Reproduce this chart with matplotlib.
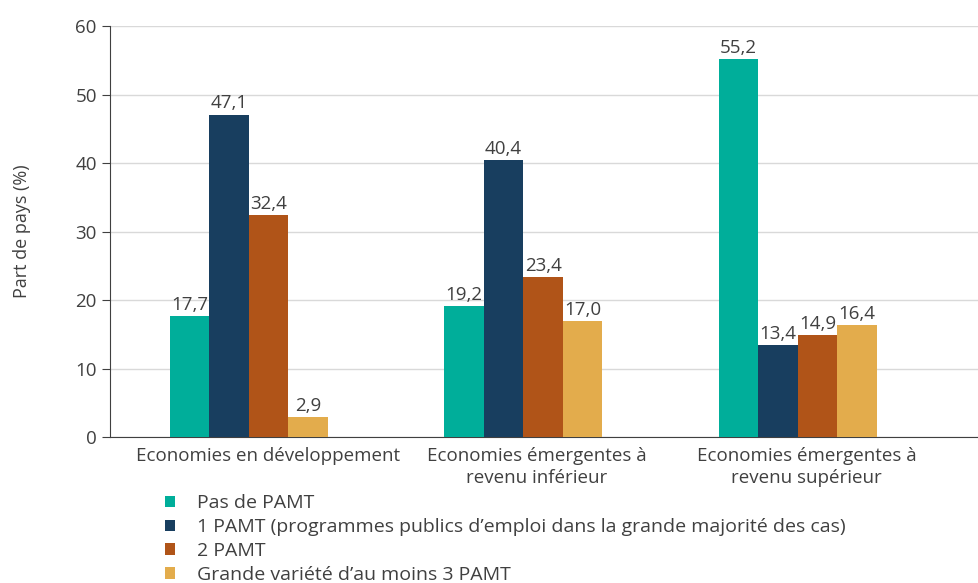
import matplotlib
matplotlib.use('Agg')
import matplotlib.pyplot as plt
import matplotlib.transforms as mtransforms
import numpy as np

plt.rcParams['font.family'] = ['Open Sans', 'DejaVu Sans']

categories = ['Economies en développement',
              'Economies émergentes à\nrevenu inférieur',
              'Economies émergentes à\nrevenu supérieur']
series_names = ['Pas de PAMT',
                '1 PAMT (programmes publics d\u2019emploi dans la grande majorité des cas)',
                '2 PAMT',
                'Grande variété d\u2019au moins 3 PAMT']
pas_de_pamt = [17.7, 19.2, 55.2]
un_pamt = [47.1, 40.4, 13.4]
deux_pamt = [32.4, 23.4, 14.9]
trois_pamt = [2.9, 17.0, 16.4]
colors = ['#00AE9A', '#183E5F', '#B05418', '#E3AC4C']

series = [pas_de_pamt, un_pamt, deux_pamt, trois_pamt]
text_color = '#404040'
fs = 13.5

fig = plt.figure(figsize=(9.79, 5.83), dpi=100)
ax = fig.add_axes([0.1124, 0.2504, 0.8876, 0.7046])

x = np.arange(len(categories))
width = 0.144
for i, (vals, name, c) in enumerate(zip(series, series_names, colors)):
    pos = x + (i - 1.5) * width
    bars = ax.bar(pos, vals, width, color=c, label=name, zorder=3)
    for b, v in zip(bars, vals):
        ax.text(b.get_x() + b.get_width() / 2, v + 0.3, f'{v:.1f}'.replace('.', ','),
                ha='center', va='bottom', fontsize=fs, color=text_color)

ax.set_ylim(0, 60)
ax.set_xlim(-0.506, 2.66)
ax.set_yticks(range(0, 61, 10))
ax.set_xticks(x)
ax.set_xticklabels(categories, fontsize=fs, color=text_color, linespacing=1.3)
ax.tick_params(axis='y', labelsize=fs, labelcolor=text_color, color='#404040', length=6)
ax.tick_params(axis='x', length=0, pad=7)
# labels sit a little right of the group centres in the original
for lbl, px in zip(ax.get_xticklabels(), [19, 13, 9]):
    shift = mtransforms.ScaledTranslation(px / 100, 0, fig.dpi_scale_trans)
    lbl.set_transform(lbl.get_transform() + shift)
ax.grid(axis='y', color='#D9D9D9', linewidth=1, zorder=0)
for s in ['top', 'right']:
    ax.spines[s].set_visible(False)
ax.spines['left'].set_color('#404040')
ax.spines['bottom'].set_color('#404040')
ax.set_ylabel('Part de pays (%)', fontsize=13, color=text_color, labelpad=32)

ax.legend(loc='upper left', bbox_to_anchor=(0.054, -0.121), frameon=False,
          fontsize=14, labelcolor=text_color, handlelength=0.55, handleheight=0.55,
          handletextpad=1.1, labelspacing=0.3, borderaxespad=0)

fig.savefig('out.png', dpi=100)
